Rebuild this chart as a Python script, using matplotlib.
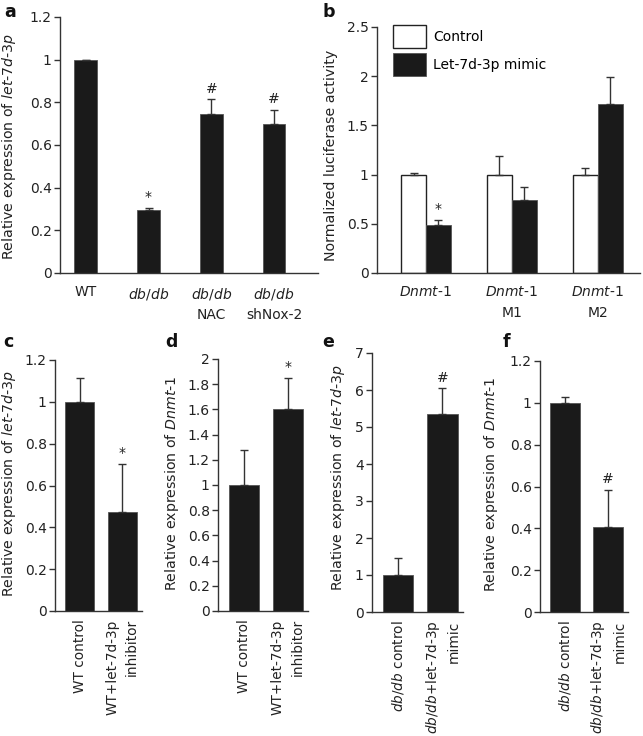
import matplotlib
matplotlib.use('Agg')
import matplotlib.pyplot as plt
import matplotlib.patches as mpatches
import numpy as np

plt.rcParams['font.family'] = ['DejaVu Sans']
plt.rcParams['mathtext.fontset'] = 'dejavusans'
plt.rcParams['font.size'] = 10

# %% data

# a : let-7d-3p in WT / db/db / NAC / shNox-2
a_labels = ['WT', r'$\mathit{db/db}$', '$\\mathit{db/db}$\nNAC', '$\\mathit{db/db}$\nshNox-2']
a_values = [1.0, 0.295, 0.745, 0.70]
a_err = [0.0, 0.010, 0.070, 0.065]
a_marks = ['', '*', '#', '#']

# b : luciferase
b_labels = [r'$\mathit{Dnmt}$-$\mathit{1}$', '$\\mathit{Dnmt}$-$\\mathit{1}$\nM1', '$\\mathit{Dnmt}$-$\\mathit{1}$\nM2']
b_control = [1.0, 1.0, 1.0]
b_control_err = [0.02, 0.19, 0.065]
b_mimic = [0.49, 0.74, 1.72]
b_mimic_err = [0.05, 0.135, 0.27]
b_marks = ['*', '', '']

# c - f : two-bar panels
c_labels = ['WT control', 'WT+let-7d-3p\ninhibitor']
c_values = [1.0, 0.475]
c_err = [0.115, 0.23]
c_marks = ['', '*']

d_labels = ['WT control', 'WT+let-7d-3p\ninhibitor']
d_values = [1.0, 1.60]
d_err = [0.28, 0.25]
d_marks = ['', '*']

e_labels = [r'$\mathit{db/db}$ control', '$\\mathit{db/db}$+let-7d-3p\nmimic']
e_values = [1.0, 5.35]
e_err = [0.45, 0.70]
e_marks = ['', '#']

f_labels = [r'$\mathit{db/db}$ control', '$\\mathit{db/db}$+let-7d-3p\nmimic']
f_values = [1.0, 0.405]
f_err = [0.03, 0.18]
f_marks = ['', '#']

ylab_let = r'Relative expression of $\mathit{let}$-$\mathit{7d}$-$\mathit{3p}$'
ylab_dnmt = r'Relative expression of $\mathit{Dnmt}$-$\mathit{1}$'

# %% layout helpers

W, H = 643, 736
fig = plt.figure(figsize=(W / 100, H / 100), dpi=100)

def rect(l, r, t, b):
    return [l / W, 1 - b / H, (r - l) / W, (b - t) / H]

dark = '#1a1a1a'
edge = '#555555'
txt = '#222222'

def style(ax, ymax, step, ylabel, lab_px, lab_y, left_px, width_px):
    ax.spines['top'].set_visible(False)
    ax.spines['right'].set_visible(False)
    for s in ['left', 'bottom']:
        ax.spines[s].set_color('#333333')
        ax.spines[s].set_linewidth(1.0)
    ax.set_ylim(0, ymax)
    ax.set_yticks(np.arange(0, ymax + step / 2, step))
    ax.yaxis.set_major_formatter(matplotlib.ticker.FormatStrFormatter('%g'))
    ax.tick_params(axis='y', length=4, width=1, color='#333333', labelcolor=txt, pad=2)
    ax.tick_params(axis='x', length=0, labelcolor=txt)
    ax.set_ylabel(ylabel, color=txt, fontsize=10.2)
    # right edge of the rotated label, in figure pixels
    ax.yaxis.set_label_coords((lab_px - left_px) / width_px, lab_y)

def marks(ax, xs, tops, labels):
    for x, t, m in zip(xs, tops, labels):
        if m:
            ax.annotate(m, (x, t), xytext=(0, 2.5), textcoords='offset points',
                        ha='center', va='bottom', fontsize=10, color=txt)

err_kw = dict(ecolor='#333333', elinewidth=1, capsize=3, capthick=1)

# %% a

ax = fig.add_axes(rect(60, 318, 17, 273))
x = np.arange(len(a_values))
ax.bar(x, a_values, width=0.36, color=dark, edgecolor=edge, linewidth=0.6,
       yerr=[np.zeros(len(a_err)), a_err], error_kw=err_kw)
ax.set_xlim(-0.41, 3.7)
ax.set_xticks(x)
ax.set_xticklabels(a_labels, va='top', linespacing=1.6)
ax.tick_params(axis='x', pad=9)
style(ax, 1.2, 0.2, ylab_let, 18, 0.494, 60, 258)
marks(ax, x, np.array(a_values) + np.array(a_err), a_marks)

# %% b

ax = fig.add_axes(rect(377, 640, 27, 273))
x = np.arange(len(b_control))
bw = 0.29
ax.bar(x - bw / 2, b_control, width=bw, color='white', edgecolor='#222222', linewidth=1,
       yerr=[np.zeros(3), b_control_err], error_kw=err_kw, label='Control')
ax.bar(x + bw / 2, b_mimic, width=bw, color=dark, edgecolor=edge, linewidth=0.6,
       yerr=[np.zeros(3), b_mimic_err], error_kw=err_kw, label='Let-7d-3p mimic')
ax.set_xlim(-0.57, 2.49)
ax.set_xticks(x)
ax.set_xticklabels(b_labels, va='top', linespacing=1.6)
ax.tick_params(axis='x', pad=9)
style(ax, 2.5, 0.5, 'Normalized luciferase activity', 338, 0.48, 377, 263)
marks(ax, x + bw / 2, np.array(b_mimic) + np.array(b_mimic_err), b_marks)
h, l = ax.get_legend_handles_labels()
h = [mpatches.Patch(facecolor='white', edgecolor='#222222', linewidth=1),
     mpatches.Patch(facecolor=dark, edgecolor=edge, linewidth=0.6)]
ax.legend(h, l, loc='upper left', bbox_to_anchor=(0.06, 1.01), frameon=False,
          borderpad=0, borderaxespad=0, handlelength=2.4, handleheight=2.2,
          handletextpad=0.5, labelspacing=0.35, fontsize=10)

# %% c - f

panels = [
    ((55, 142, 360, 611), c_labels, c_values, c_err, c_marks, 1.2, 0.2, ylab_let, 18, 0.51),
    ((218, 308, 359, 611), d_labels, d_values, d_err, d_marks, 2.0, 0.2, ylab_dnmt, 181, 0.506),
    ((372, 463, 353, 612), e_labels, e_values, e_err, e_marks, 7, 1, ylab_let, 347, 0.52),
    ((540, 628, 361, 612), f_labels, f_values, f_err, f_marks, 1.2, 0.2, ylab_dnmt, 500, 0.51),
]

for px, labels, values, err, mk, ymax, step, ylab, lab_px, lab_y in panels:
    ax = fig.add_axes(rect(*px))
    x = np.arange(len(values))
    ax.bar(x, values, width=0.68, color=dark, edgecolor=edge, linewidth=0.6,
           yerr=[np.zeros(len(err)), err], error_kw=err_kw)
    ax.set_xlim(-0.58, 1.46)
    ax.set_xticks(x)
    ax.set_xticklabels(labels, rotation=90, ha='center', va='top',
                       multialignment='right', linespacing=1.5, fontsize=9.8)
    ax.tick_params(axis='x', pad=6)
    style(ax, ymax, step, ylab, lab_px, lab_y, px[0], px[1] - px[0])
    marks(ax, x, np.array(values) + np.array(err), mk)

# %% panel letters

for letter, px, py in [('a', 4, 17), ('b', 322, 17), ('c', 3, 347),
                       ('d', 165, 347), ('e', 322, 347), ('f', 503, 347)]:
    fig.text(px / W, 1 - py / H, letter, fontsize=12.5, fontweight='bold',
             ha='left', va='baseline', color='#111111')

plt.savefig('out.png', dpi=100)
